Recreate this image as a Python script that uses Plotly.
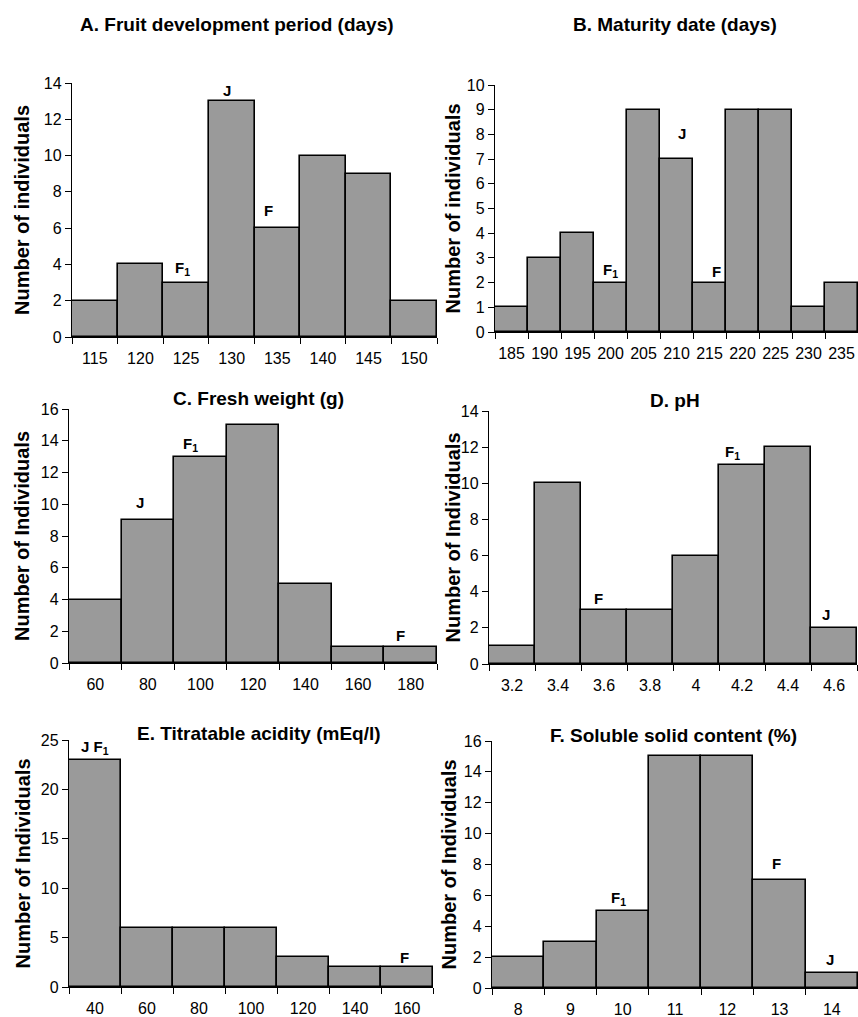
import plotly.graph_objects as go

W, H = 858, 1017

# ---- data ----
a_cats = ["115", "120", "125", "130", "135", "140", "145", "150"]
a_vals = [2, 4, 3, 13, 6, 10, 9, 2]
b_cats = ["185", "190", "195", "200", "205", "210", "215", "220", "225", "230", "235"]
b_vals = [1, 3, 4, 2, 9, 7, 2, 9, 9, 1, 2]
c_cats = ["60", "80", "100", "120", "140", "160", "180"]
c_vals = [4, 9, 13, 15, 5, 1, 1]
d_cats = ["3.2", "3.4", "3.6", "3.8", "4", "4.2", "4.4", "4.6"]
d_vals = [1, 10, 3, 3, 6, 11, 12, 2]
e_cats = ["40", "60", "80", "100", "120", "140", "160"]
e_vals = [23, 6, 6, 6, 3, 2, 2]
f_cats = ["8", "9", "10", "11", "12", "13", "14"]
f_vals = [2, 3, 5, 15, 15, 7, 1]

titles = ["A. Fruit development period (days)", "B. Maturity date (days)",
          "C. Fresh weight (g)", "D. pH",
          "E. Titratable acidity (mEq/l)", "F. Soluble solid content (%)"]
ytitles = ["Number of individuals", "Number of individuals",
           "Number of Individuals", "Number of Individuals",
           "Number of Individuals", "Number of Individuals"]
yranges = [14, 10, 16, 14, 25, 16]
ydticks = [2, 1, 2, 2, 5, 2]

# labels: (panel, category, text, xshift px, yshift px)
labels = [
    (0, "125", "F<sub>1</sub>", -4, 3), (0, "130", "J", -5, 0), (0, "135", "F", -9, 7),
    (1, "200", "F<sub>1</sub>", 0, 1), (1, "210", "J", 5, 15), (1, "215", "F", 7, 1),
    (2, "80", "J", -8, 7), (2, "100", "F<sub>1</sub>", -10, 1), (2, "180", "F", -10, 1),
    (3, "3.6", "F", -6, 1), (3, "4.2", "F<sub>1</sub>", -10, 1), (3, "4.6", "J", -8, 3),
    (4, "40", "J F<sub>1</sub>", 0, 1), (4, "160", "F", -3, -1),
    (5, "10", "F<sub>1</sub>", -4, 1), (5, "13", "F", -3, 6), (5, "14", "J", -2, 3),
]

# panel pixel boxes: (x0, x1, ytop, ybottom)
boxes = [(72, 437, 83, 337), (495, 858, 85, 332),
         (69, 437, 409, 663), (489, 857, 411, 664),
         (69, 433, 740, 987), (492, 858, 741, 988)]
title_pos = [(237, 25), (675, 25), (258, 398), (675, 400), (259, 733), (673, 735)]
ytitle_x = [22, 452, 22, 452, 22, 448]

cats = [a_cats, b_cats, c_cats, d_cats, e_cats, f_cats]
vals = [a_vals, b_vals, c_vals, d_vals, e_vals, f_vals]

FONT = "Liberation Sans, Arial, sans-serif"
fig = go.Figure()
annotations = []

for i in range(6):
    n = "" if i == 0 else str(i + 1)
    x0, x1, yt, yb = boxes[i]
    fig.add_trace(go.Bar(
        x=list(range(len(cats[i]))), y=vals[i], xaxis="x" + n, yaxis="y" + n,
        width=1.0,
        marker=dict(color="#9a9a9a", line=dict(color="black", width=1.6)),
        showlegend=False, hovertext=cats[i], hoverinfo="text+y"))
    edges = [k - 0.5 for k in range(len(cats[i]) + 1)]
    xa = dict(domain=[x0 / W, x1 / W], anchor="y" + n,
              range=[-0.5, len(cats[i]) - 0.5],
              tickmode="array", tickvals=list(range(len(cats[i]))), ticktext=cats[i],
              ticks="", tickangle=0,
              showline=True, linecolor="black", linewidth=1.3,
              showgrid=False, zeroline=False, ticklabelstandoff=7,
              tickfont=dict(family=FONT, size=16, color="black"))
    ya = dict(domain=[1 - yb / H, 1 - yt / H], anchor="x" + n,
              range=[0, yranges[i]], dtick=ydticks[i], tick0=0,
              ticks="outside", ticklen=6, tickwidth=1.3, tickcolor="black",
              showline=True, linecolor="black", linewidth=1.3,
              showgrid=False, zeroline=False,
              tickfont=dict(family=FONT, size=16, color="black"))
    fig.layout["xaxis" + n] = xa
    fig.layout["yaxis" + n] = ya
    # secondary overlaying axis for tick marks at bin boundaries
    m = str(i + 11)
    fig.layout["xaxis" + m] = dict(overlaying="x" + n, anchor="y" + n,
                                   domain=[x0 / W, x1 / W],
                                   range=[-0.5, len(cats[i]) - 0.5],
                                   tickmode="array", tickvals=edges,
                                   showticklabels=False, ticks="outside",
                                   ticklen=6, tickwidth=1.3, tickcolor="black",
                                   showgrid=False, zeroline=False, showline=False,
                                   side="bottom")
    fig.add_trace(go.Scatter(x=[edges[0]], y=[0], xaxis="x" + m, yaxis="y" + n,
                             mode="markers", marker=dict(opacity=0),
                             showlegend=False, hoverinfo="skip"))
    tx, ty = title_pos[i]
    annotations.append(dict(text="<b>%s</b>" % titles[i], x=tx / W, y=1 - ty / H,
                            xref="paper", yref="paper", showarrow=False,
                            xanchor="center", yanchor="middle",
                            font=dict(family=FONT, size=19, color="black")))
    annotations.append(dict(text="<b>%s</b>" % ytitles[i], x=ytitle_x[i] / W,
                            y=1 - ((yt + yb) / 2) / H, xref="paper", yref="paper",
                            showarrow=False, textangle=-90, xanchor="center",
                            yanchor="middle",
                            font=dict(family=FONT, size=20, color="black")))

for p, c, t, xs, ys in labels:
    n = "" if p == 0 else str(p + 1)
    k = cats[p].index(c)
    v = vals[p][k]
    annotations.append(dict(text="<b>%s</b>" % t, x=k, y=v, xref="x" + n, yref="y" + n,
                            showarrow=False, yanchor="bottom", xshift=xs, yshift=ys,
                            font=dict(family=FONT, size=15, color="black")))

fig.update_layout(width=W, height=H,
                  margin=dict(l=0, r=0, t=0, b=0, autoexpand=False),
                  paper_bgcolor="white", plot_bgcolor="white", bargap=0,
                  annotations=annotations)
fig.write_html("out.html", config={"displayModeBar": False},
               post_script="document.body.style.margin='0';document.body.style.overflow='hidden';")
